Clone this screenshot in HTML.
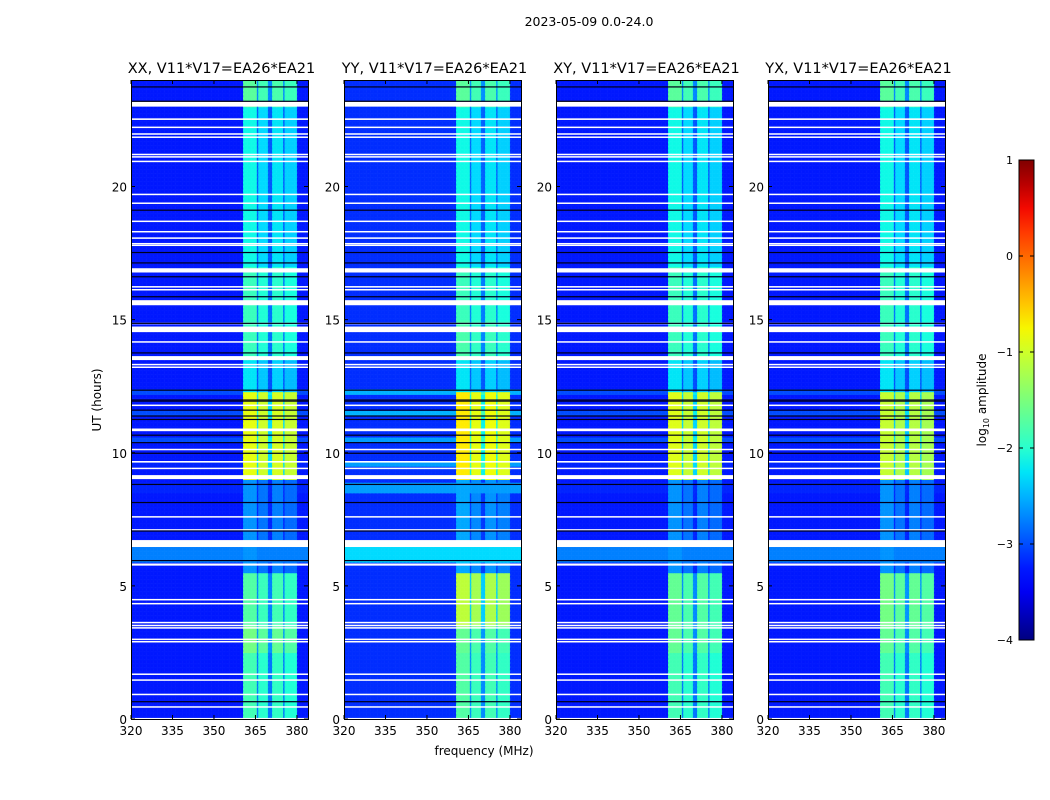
<!DOCTYPE html>
<html><head><meta charset="utf-8">
<style>
body{margin:0;background:#fff;}
#wrap{position:relative;width:1050px;height:800px;overflow:hidden;background:#fff;font-family:"DejaVu Sans","Liberation Sans",sans-serif;}
canvas{position:absolute;image-rendering:pixelated;}
svg{position:absolute;left:0;top:0;font-family:"DejaVu Sans","Liberation Sans",sans-serif;}
</style></head>
<body>
<div id="wrap">
<svg id="ov" width="1050" height="800"></svg>
</div>
<script>
// ---- data ----
const panelTitles = ["XX, V11*V17=EA26*EA21","YY, V11*V17=EA26*EA21","XY, V11*V17=EA26*EA21","YX, V11*V17=EA26*EA21"];
const xTicks = [320,335,350,365,380];
const yTicks = [0,5,10,15,20];
const cbTicks = [1,0,-1,-2,-3,-4];
const bgLevel = [-3.25,-3.15,-3.25,-3.25];
// sub-bands (MHz) with brightness offsets
const subBandStart = [360.5,365.8,371.0,375.6];
const subBandEnd   = [365.3,369.5,375.0,380.0];
const subBandOffset = [0.1,-0.05,0.0,-0.1];
// band level over time: segment starts/ends (hours) and log10 levels per panel
const bandSegStart = [0,2.5,3.5,5.5,9.0,12.3,13.5,15.0,17.0,23.0];
const bandSegEnd   = [2.5,3.5,5.5,9.0,12.3,13.5,15.0,17.0,23.0,24.0];
const bandLevelP1 = [-1.95,-1.65,-1.85,-2.75,-0.95,-2.35,-2.0,-2.0,-2.25,-1.8];
const bandLevelP2 = [-1.85,-1.75,-1.2,-2.65,-0.8,-2.35,-1.9,-2.0,-2.25,-1.8];
const bandLevelP3 = [-1.95,-1.75,-1.75,-2.75,-1.0,-2.35,-2.0,-2.0,-2.25,-1.8];
const bandLevelP4 = [-1.95,-1.75,-1.65,-2.75,-1.15,-2.35,-2.0,-2.0,-2.25,-1.8];
const bandLevels = [bandLevelP1,bandLevelP2,bandLevelP3,bandLevelP4];
// elevated background intervals (hours)
const bgBumpStart = [5.9,8.5,9.5,10.4,11.4,12.2];
const bgBumpEnd   = [6.6,8.9,9.7,10.6,11.6,12.4];
const bgBumpP2    = [-2.3,-2.6,-2.6,-2.6,-2.5,-2.5];
const bgBumpP1    = [-2.75,-3.2,-3.2,-3.0,-3.0,-3.0];
// flagged (white) intervals
const flagStart = [23.0,22.50,22.20,21.96,21.84,21.19,21.10,20.93,19.69,19.36,18.68,18.29,18.05,17.84,17.78,16.77,16.22,16.11,15.54,14.84,14.53,14.15,13.48,13.30,13.20,11.77,10.81,10.11,9.63,9.40,9.01,7.58,7.09,6.46,5.76,4.47,4.32,3.61,3.50,3.41,2.98,2.89,1.67,1.44,0.91,0.44,0.0];
const flagEnd   = [23.2,22.56,22.25,22.00,21.88,21.23,21.14,20.97,19.73,19.40,18.72,18.33,18.09,17.88,17.82,16.93,16.26,16.15,15.73,14.88,14.74,14.19,13.63,13.34,13.24,11.81,10.91,10.15,9.69,9.44,9.16,7.62,7.13,6.72,5.84,4.51,4.36,3.65,3.54,3.45,3.02,2.93,1.71,1.49,0.95,0.48,0.04];
// black lines (hours)
const blackLines = [23.74,23.2,19.11,17.52,17.13,16.61,15.86,14.86,13.75,12.35,11.98,11.94,11.6,11.38,11.25,10.66,10.38,9.98,8.81,8.13,7.06,5.95,0.65];

// ---- geometry ----
const panelX = [131,344,556,768];
const PW = 177, PT = 80, PB = 719;
const fMin = 320, fMax = 384, hMin = 0, hMax = 24;
const xScale = (p,f) => panelX[p] + (f - fMin) / (fMax - fMin) * PW;
const yScale = h => PB - (h - hMin) / (hMax - hMin) * (PB - PT);
const cbTop = 160, cbBot = 640, cbX = 1019, cbW = 15;
const cbScale = v => cbBot - (v + 4) / 5 * (cbBot - cbTop);

function interp(pts, t){
  for(let i=1;i<pts.length;i++){ if(t<=pts[i][0]){const a=pts[i-1],b=pts[i];return a[1]+(b[1]-a[1])*(t-a[0])/(b[0]-a[0]);} }
  return pts[pts.length-1][1];
}
function jet(v){
  let t=Math.max(0,Math.min(1,(v+4)/5));
  const r=interp([[0,0],[0.35,0],[0.66,1],[0.89,1],[1,0.5]],t);
  const g=interp([[0,0],[0.125,0],[0.375,1],[0.64,1],[0.91,0],[1,0]],t);
  const b=interp([[0,0.5],[0.11,1],[0.34,1],[0.65,0],[1,0]],t);
  return `rgb(${Math.round(r*255)},${Math.round(g*255)},${Math.round(b*255)})`;
}
function value(p,h,f){
  let bg=bgLevel[p];
  const bumps = p===1?bgBumpP2:bgBumpP1;
  for(let i=0;i<bgBumpStart.length;i++) if(h>=bgBumpStart[i]&&h<bgBumpEnd[i]) bg=Math.max(bg,bumps[i]);
  let lvl=null;
  for(let i=0;i<bandSegStart.length;i++) if(h>=bandSegStart[i]&&h<bandSegEnd[i]) lvl=bandLevels[p][i];
  for(let j=0;j<subBandStart.length;j++){
    if(f>=subBandStart[j]&&f<subBandEnd[j]) return Math.max(bg,lvl+subBandOffset[j]);
  }
  if(f>=subBandStart[0]&&f<subBandEnd[3]) return Math.max(bg,(lvl+bg)/2-0.2);
  return bg;
}

const wrap=document.getElementById('wrap');
const NS='http://www.w3.org/2000/svg';
const ov=document.getElementById('ov');
function el(tag,attrs,text){const e=document.createElementNS(NS,tag);for(const k in attrs)e.setAttribute(k,attrs[k]);if(text!==undefined)e.textContent=text;ov.appendChild(e);return e;}

const dF=0.5, dH=0.05;
for(let p=0;p<4;p++){
  const cv=document.createElement('canvas');
  cv.width=PW; cv.height=PB-PT;
  cv.style.left=panelX[p]+'px'; cv.style.top=PT+'px';
  
  
  wrap.insertBefore(cv,ov);
  const ctx=cv.getContext('2d');
  for(let h=hMin;h<hMax;h+=dH){
    const y0=yScale(h+dH)-PT, y1=yScale(h)-PT;
    for(let f=fMin;f<fMax;f+=dF){
      const x0=xScale(p,f)-panelX[p], x1=xScale(p,f+dF)-panelX[p];
      ctx.fillStyle=jet(value(p,h+dH/2,f+dF/2));
      ctx.fillRect(x0,y0,x1-x0+0.6,y1-y0+0.6);
    }
  }
  ctx.fillStyle='#fff';
  for(let i=0;i<flagStart.length;i++){
    const y0=yScale(flagEnd[i])-PT, y1=yScale(flagStart[i])-PT;
    ctx.fillRect(0,y0,PW,Math.max(1.5,y1-y0));
  }
  ctx.fillStyle='#00001a';
  for(const b of blackLines){ ctx.fillRect(0,yScale(b)-PT-0.6,PW,1.2); }

  el('rect',{x:panelX[p]+0.5,y:PT+0.5,width:PW,height:PB-PT,fill:'none',stroke:'#000','stroke-width':1,});
  el('text',{x:panelX[p]+PW/2+2,y:PT-7,'text-anchor':'middle','font-size':14.5,fill:'#000',},panelTitles[p]);
  for(const t of xTicks){
    const x=xScale(p,t);
    el('line',{x1:x,x2:x,y1:PB,y2:PB-4,stroke:'#000',});
    el('line',{x1:x,x2:x,y1:PT,y2:PT+4,stroke:'#000',});
    el('text',{x:x,y:PB+16,'text-anchor':'middle','font-size':12,fill:'#000',},t);
  }
  for(const t of yTicks){
    const y=yScale(t);
    el('line',{x1:panelX[p],x2:panelX[p]+4,y1:y,y2:y,stroke:'#000',});
    el('line',{x1:panelX[p]+PW,x2:panelX[p]+PW-4,y1:y,y2:y,stroke:'#000',});
    el('text',{x:panelX[p]-4,y:y+5,'text-anchor':'end','font-size':12,fill:'#000',},t);
  }
}
el('text',{x:589,y:26,'text-anchor':'middle','font-size':12.5,fill:'#000',},'2023-05-09 0.0-24.0');
el('text',{x:484,y:755,'text-anchor':'middle','font-size':12,fill:'#000',},'frequency (MHz)');
el('text',{x:101,y:400,'text-anchor':'middle','font-size':12,fill:'#000',transform:'rotate(-90 101 400)',},'UT (hours)');

// colorbar
const defs=el('defs',{});
const grad=document.createElementNS(NS,'linearGradient');
grad.setAttribute('id','jetg');grad.setAttribute('x1','0');grad.setAttribute('y1','1');grad.setAttribute('x2','0');grad.setAttribute('y2','0');
defs.appendChild(grad);
for(let i=0;i<=20;i++){const s=document.createElementNS(NS,'stop');s.setAttribute('offset',i/20);s.setAttribute('stop-color',jet(-4+5*i/20));grad.appendChild(s);}
el('rect',{x:cbX,y:cbTop,width:cbW,height:cbBot-cbTop,fill:'url(#jetg)',stroke:'#000','stroke-width':1,});
for(const t of cbTicks){
  const y=cbScale(t);
  el('line',{x1:cbX,x2:cbX+4,y1:y,y2:y,stroke:'#000',});
  el('line',{x1:cbX+cbW,x2:cbX+cbW-4,y1:y,y2:y,stroke:'#000',});
  el('text',{x:cbX-6,y:y+4,'text-anchor':'end','font-size':11,fill:'#000',},t<0?'\u2212'+(-t):t);
}
const lbl=el('text',{x:986,y:400,'text-anchor':'middle','font-size':12,fill:'#000',transform:'rotate(-90 986 400)',});
lbl.appendChild(document.createTextNode('log'));
const sub=document.createElementNS(NS,'tspan');sub.setAttribute('font-size','8');sub.setAttribute('dy','3');sub.textContent='10';lbl.appendChild(sub);
const rest=document.createElementNS(NS,'tspan');rest.setAttribute('dy','-3');rest.textContent=' amplitude';lbl.appendChild(rest);
</script>
</body></html>
